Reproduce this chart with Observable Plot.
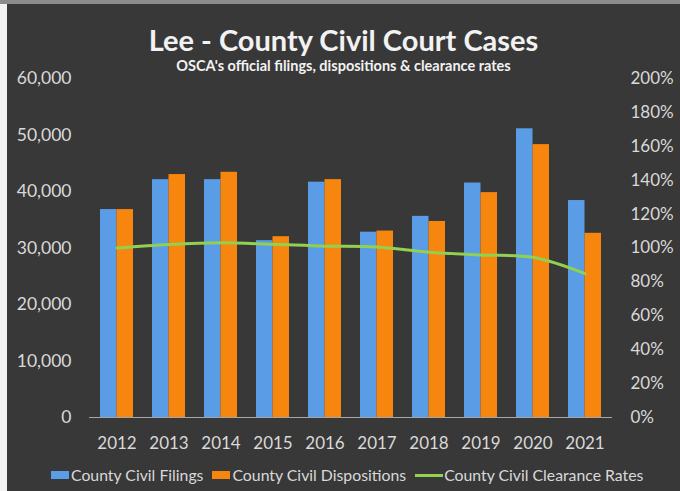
<!DOCTYPE html>
<html><head><meta charset="utf-8">
<script src="https://cdn.jsdelivr.net/npm/d3@7"></script>
<script src="https://cdn.jsdelivr.net/npm/@observablehq/plot@0.6"></script>
<style>
body{margin:0;background:#f2f2f2;width:680px;height:491px;overflow:hidden;position:relative;font-family:Lato,sans-serif}
#topstrip{position:absolute;left:0;top:0;width:680px;height:4px;background:#8c8c8c}
#card{position:absolute;left:7px;top:4px;width:673px;height:487px;background:#383838}
.t{position:absolute;left:7px;width:673px;text-align:center;color:#f2f2f2;font-weight:bold;white-space:nowrap}
#title{top:25px;font-size:29px;line-height:29px}
#subtitle{top:59px;font-size:14.5px;line-height:14.5px}
#chart{position:absolute;left:0;top:60px}
#legend{position:absolute;left:51px;top:467px;display:flex;align-items:center;font-size:15.8px;line-height:16px;color:#d9d9d9;white-space:nowrap}
.sw{width:18px;height:8px;margin-right:2px}
.ln{width:28px;height:3px;margin-right:1px}
.item{display:flex;align-items:center;margin-right:9px}
</style></head>
<body>
<div id="topstrip"></div>
<div id="card"></div>
<div id="title" class="t">Lee - County Civil Court Cases</div>
<div id="subtitle" class="t">OSCA's official filings, dispositions &amp; clearance rates</div>
<div id="chart"></div>
<div id="legend"></div>
<script>
const years = ["2012","2013","2014","2015","2016","2017","2018","2019","2020","2021"];
const filings = [36800, 42100, 42100, 31300, 41650, 32800, 35600, 41500, 51100, 38400];
const dispositions = [36800, 43000, 43400, 32000, 42100, 33000, 34700, 39800, 48300, 32600];
const clearanceRates = [100, 102.1, 103.1, 102.2, 101.1, 100.6, 97.5, 95.9, 94.5, 84.9];
const countTicks = [0, 10000, 20000, 30000, 40000, 50000, 60000];
const rateTicks = [0, 20, 40, 60, 80, 100, 120, 140, 160, 180, 200];
const seriesNames = ["County Civil Filings", "County Civil Dispositions", "County Civil Clearance Rates"];
const colors = ["#5b9ce6", "#f7860f", "#92d050"];

const data = years.map((year, i) => ({year, filings: filings[i], dispositions: dispositions[i], rate: clearanceRates[i]}));
const rateScale = 60000 / 200;

const chart = Plot.plot({
  width: 680, height: 390,
  marginLeft: 89, marginRight: 68, marginTop: 18, marginBottom: 33,
  style: {background: "transparent", color: "#d9d9d9", fontFamily: "Lato, sans-serif", fontSize: "17px", overflow: "visible"},
  x: {type: "band", domain: years, paddingInner: 0.368, paddingOuter: 0.19, axis: null},
  y: {domain: [0, 60000], axis: null},
  marks: [
    Plot.barY(data, {x: "year", y: "filings", fill: colors[0], insetRight: 16.5}),
    Plot.barY(data, {x: "year", y: "dispositions", fill: colors[1], insetLeft: 16.5}),
    Plot.ruleY([0], {stroke: "#a6a6a6", strokeWidth: 1}),
    Plot.lineY(data, {x: "year", y: d => d.rate * rateScale, stroke: colors[2], strokeWidth: 3, curve: "catmull-rom"}),
    Plot.axisX({tickSize: 0, tickPadding: 19, label: null, fontSize: 17}),
    Plot.axisY(countTicks, {anchor: "left", tickSize: 0, tickPadding: 18, label: null, tickFormat: d3.format(","), fontSize: 17.5}),
    Plot.axisY(rateTicks.map(r => r * rateScale), {anchor: "right", tickSize: 0, tickPadding: 18, label: null, tickFormat: d => Math.round(d / rateScale) + "%", fontSize: 17})
  ]
});
document.getElementById("chart").appendChild(chart);

const legend = document.getElementById("legend");
seriesNames.forEach((name, i) => {
  const item = document.createElement("div");
  item.className = "item";
  const sw = document.createElement("div");
  sw.className = i === 2 ? "ln" : "sw";
  sw.style.background = colors[i];
  const label = document.createElement("span");
  label.textContent = name;
  item.appendChild(sw); item.appendChild(label);
  legend.appendChild(item);
});
</script>
</body></html>
